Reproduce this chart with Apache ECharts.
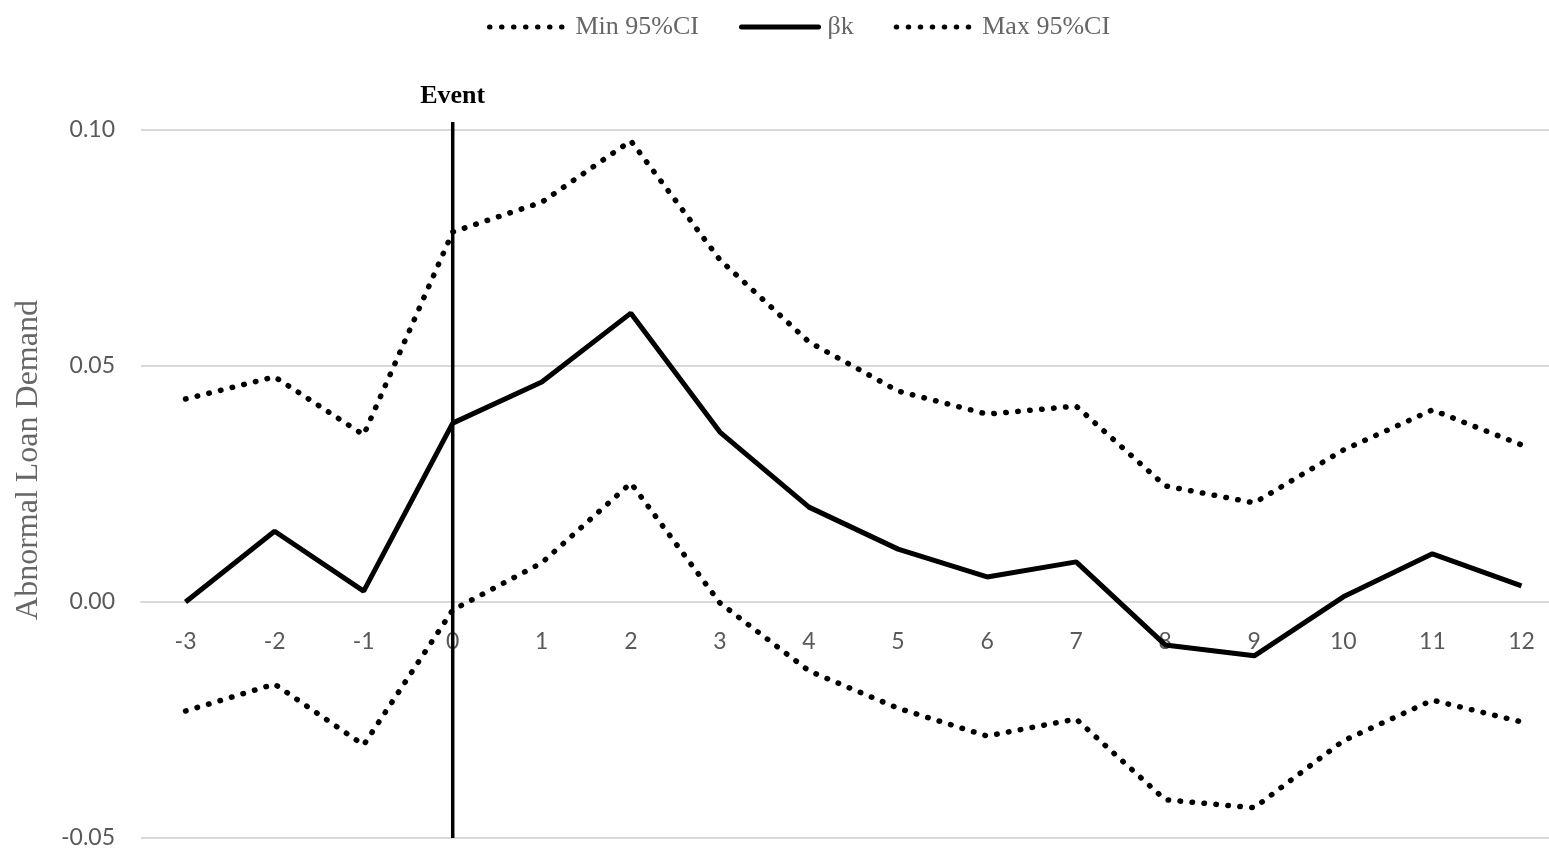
<!DOCTYPE html>
<html><head><meta charset="utf-8">
<script src="https://cdn.jsdelivr.net/npm/echarts@6/dist/echarts.min.js"></script>
<style>html,body{margin:0;padding:0;background:#fff}#c{width:1549px;height:850px}</style>
</head><body><div id="c"></div>
<script>
var categories = ['-3','-2','-1','0','1','2','3','4','5','6','7','8','9','10','11','12'];
var beta = [0.0000, 0.0150, 0.0023, 0.0379, 0.0466, 0.0612, 0.0360, 0.0201, 0.0112, 0.0053, 0.0085, -0.0091, -0.0114, 0.0011, 0.0102, 0.0034];
var maxCI = [0.0430, 0.0477, 0.0354, 0.0784, 0.0847, 0.0977, 0.0725, 0.0551, 0.0447, 0.0398, 0.0415, 0.0246, 0.0210, 0.0322, 0.0407, 0.0333];
var minCI = [-0.0231, -0.0174, -0.0303, -0.0017, 0.0083, 0.0252, -0.0002, -0.0146, -0.0225, -0.0284, -0.0248, -0.0419, -0.0436, -0.0294, -0.0208, -0.0254];
var yTicks = [-0.05, 0.00, 0.05, 0.10];
var eventCategory = '0';
var eventLabel = 'Event';
var yTitle = 'Abnormal Loan Demand';

var chart = echarts.init(document.getElementById('c'), null, {renderer:'canvas'});
var serif = '"Liberation Serif", "DejaVu Serif", serif';
var sans = 'Lato, "Open Sans", sans-serif';
var dotStyle = {color:'#000', width:5.5, type:[0.5, 11.5], cap:'round'};
var option = {
  animation:false,
  legend:{
    top:9, left:482, itemWidth:77, itemHeight:14, itemGap:40,
    itemStyle:{opacity:0},
    lineStyle:{width:5, cap:'round'},
    textStyle:{fontFamily:serif, fontSize:26, color:'#666', padding:[0,0,0,4]},
    data:['Min 95%CI','βk','Max 95%CI']
  },
  grid:{left:141, top:130, width:1425, height:708, containLabel:false, outerBoundsMode:'none'},
  xAxis:{
    type:'category', data:categories, boundaryGap:true,
    axisLine:{onZero:false, lineStyle:{color:'#d9d9d9', width:2}},
    axisTick:{show:false},
    axisLabel:{fontFamily:sans, fontSize:23, color:'#595959', margin:28}
  },
  yAxis:{
    type:'value', min:yTicks[0], max:yTicks[yTicks.length-1], interval:0.05,
    axisLine:{show:false}, axisTick:{show:false},
    splitLine:{lineStyle:{color:'#d9d9d9', width:2}},
    axisLabel:{fontFamily:sans, fontSize:23, color:'#595959', margin:26,
      formatter:function(v){return v.toFixed(2);}}
  },
  series:[
    {name:'Min 95%CI', type:'line', data:minCI, symbol:'none', lineStyle:dotStyle, itemStyle:{color:'#000'}, z:3},
    {name:'βk', type:'line', data:beta, symbol:'none', lineStyle:{color:'#000', width:5}, itemStyle:{color:'#000'}, z:4},
    {name:'Max 95%CI', type:'line', data:maxCI, symbol:'none', lineStyle:dotStyle, itemStyle:{color:'#000'}, z:3}
  ]
};
chart.setOption(option);
var pBottom = chart.convertToPixel({gridIndex:0}, [eventCategory, yTicks[0]]);
var pTop = chart.convertToPixel({gridIndex:0}, [eventCategory, yTicks[yTicks.length-1]]);
var pZero = chart.convertToPixel({gridIndex:0}, [eventCategory, 0]);
var pMid = chart.convertToPixel({gridIndex:0}, [eventCategory, (yTicks[0]+yTicks[yTicks.length-1])/2]);
chart.setOption({
  xAxis:{offset: -(pBottom[1]-pZero[1])},
  graphic:[
    {type:'line', z:10, shape:{x1:pTop[0], y1:pTop[1]-8, x2:pBottom[0], y2:pBottom[1]}, style:{stroke:'#000', lineWidth:3.5}},
    {type:'text', z:10, x:pTop[0], y:pTop[1]-34, style:{text:eventLabel, fontFamily:serif, fontWeight:'bold', fontSize:26, fill:'#000', textAlign:'center', textVerticalAlign:'middle'}},
    {type:'text', x:29, y:pMid[1]-24, rotation:Math.PI/2, style:{text:yTitle, fontFamily:serif, fontSize:32, fill:'#666', textAlign:'center', textVerticalAlign:'middle'}}
  ]
});
</script></body></html>
